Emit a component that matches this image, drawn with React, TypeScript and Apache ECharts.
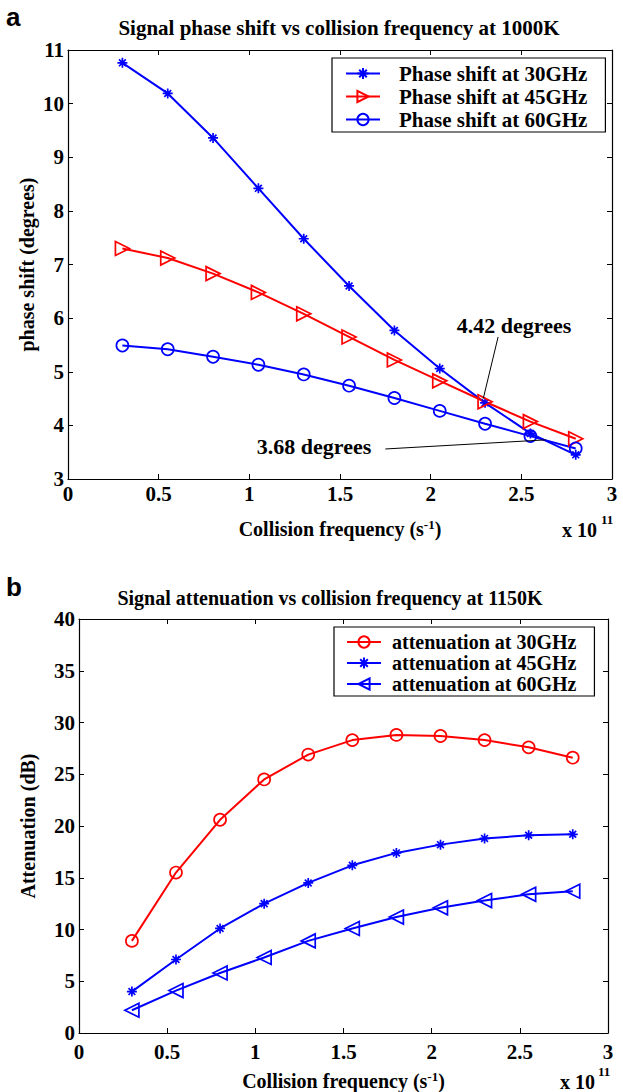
import React, { useEffect, useRef } from "react";
import * as echarts from "echarts";

const freq = [0.3, 0.55, 0.8, 1.05, 1.3, 1.55, 1.8, 2.05, 2.3, 2.55, 2.8];
const phase30 = [10.76, 10.19, 9.36, 8.42, 7.48, 6.6, 5.77, 5.06, 4.42, 3.85, 3.45];
const phase45 = [7.3, 7.12, 6.83, 6.48, 6.08, 5.65, 5.22, 4.83, 4.44, 4.07, 3.75];
const phase60 = [5.49, 5.42, 5.28, 5.13, 4.95, 4.74, 4.51, 4.27, 4.03, 3.8, 3.57];
const att30 = [8.9, 15.5, 20.6, 24.5, 26.9, 28.3, 28.8, 28.7, 28.3, 27.6, 26.6];
const att45 = [4.0, 7.1, 10.1, 12.5, 14.5, 16.2, 17.4, 18.2, 18.8, 19.1, 19.2];
const att60 = [2.2, 4.1, 5.8, 7.3, 8.9, 10.1, 11.2, 12.1, 12.8, 13.4, 13.7];

const namesA = ["Phase shift at 30GHz", "Phase shift at 45GHz", "Phase shift at 60GHz"];
const namesB = ["attenuation at 30GHz", "attenuation at 45GHz", "attenuation at 60GHz"];

// annotation arrows: [start, end] in data coordinates
const arrow442 = [[2.372, 5.65], [2.29, 4.5]];
const arrow368 = [[1.75, 3.56], [2.635, 3.73]];
const label442 = { text: "4.42 degrees", at: [2.46, 5.87] };
const label368 = { text: "3.68 degrees", at: [1.357, 3.6] };

const BLUE = "#0000ff";
const RED = "#ff0000";
const SERIF = "'Liberation Serif', 'Times New Roman', serif";

const STAR = "path://M5,0 L5,10 M0,5 L10,5 M1.6,1.6 L8.4,8.4 M1.6,8.4 L8.4,1.6";
const TRI_RIGHT = "path://M0,0 L10,5 L0,10 Z";
const TRI_LEFT = "path://M10,0 L0,5 L10,10 Z";

const pts = (ys: number[]) => freq.map((x, i) => [x, ys[i]]);

function mkSeries(name: string, ys: number[], color: string, symbol: string, size: number, xi: number, extra: any = {}) {
  const filled = symbol === STAR;
  return {
    type: "line",
    name,
    data: pts(ys),
    xAxisIndex: xi,
    yAxisIndex: xi,
    symbol,
    symbolSize: size,
    showAllSymbol: true,
    lineStyle: { color, width: 2 },
    itemStyle: { color: filled ? color : "rgba(0,0,0,0)", borderColor: color, borderWidth: 1.7 },
    emphasis: { disabled: true },
    z: 3,
    ...extra,
  };
}

function axisPair(grid: number, min: number, max: number, interval: number, isX: boolean, labelMargin: number, name: string, nameGap: number) {
  const common = {
    gridIndex: grid,
    type: "value",
    min,
    max,
    interval,
    axisLine: { show: true, onZero: false, lineStyle: { color: "#000", width: 1.2 } },
    axisTick: { show: true, inside: true, length: 5, lineStyle: { color: "#000" } },
    splitLine: { show: false },
  };
  const main: any = {
    ...common,
    position: isX ? "bottom" : "left",
    axisLabel: {
      show: true,
      margin: labelMargin,
      color: "#000",
      fontFamily: SERIF,
      fontWeight: "bold",
      fontSize: 21,
    },
    name,
    nameLocation: "middle",
    nameGap,
    nameMoveOverlap: false,
    nameTextStyle: {
      color: "#000",
      fontFamily: SERIF,
      fontWeight: "bold",
      fontSize: 20,
      rich: {
        a: { color: "#000", fontFamily: SERIF, fontWeight: "bold", fontSize: 20 },
        sup: { color: "#000", fontFamily: SERIF, fontWeight: "bold", fontSize: 13, verticalAlign: "top", padding: [0, 0, 9, 0] },
      },
    },
  };
  const second: any = {
    ...common,
    position: isX ? "top" : "right",
    axisLabel: { show: false },
  };
  return [main, second];
}

function legendCfg(names: string[], left: number, top: number, itemGap: number, padding: number[], textPad: number, fontSize: number) {
  return {
    data: names,
    orient: "vertical",
    left,
    top,
    itemWidth: 34,
    itemHeight: 14,
    itemGap,
    padding,
    borderColor: "#000",
    borderWidth: 1.2,
    backgroundColor: "#fff",
    selectedMode: false,
    textStyle: {
      color: "#000",
      fontFamily: SERIF,
      fontWeight: "bold",
      fontSize,
      padding: [0, 0, 0, textPad],
    },
  };
}

export default function App() {
  const ref = useRef<HTMLDivElement>(null);
  useEffect(() => {
    if (!ref.current) return;
    const chart = echarts.init(ref.current, undefined, { renderer: "svg" });
    const xName = "{a|Collision frequency (s}{sup|-1}{a|)}";
    const [xa0, xa1] = axisPair(0, 0, 3, 0.5, true, 4, xName, 39);
    const [ya0, ya1] = axisPair(0, 3, 11, 1, false, 4, "phase shift (degrees)", 31);
    const [xb0, xb1] = axisPair(1, 0, 3, 0.5, true, 8, xName, 37);
    const [yb0, yb1] = axisPair(1, 0, 40, 5, false, 4, "Attenuation (dB)", 41);
    const annot = {
      markLine: {
        silent: true,
        symbol: ["none", "arrow"],
        symbolSize: [0, 9],
        label: { show: false },
        lineStyle: { color: "#000", width: 1, type: "solid" },
        data: [
          [{ coord: arrow442[0] }, { coord: arrow442[1] }],
          [{ coord: arrow368[0] }, { coord: arrow368[1] }],
        ],
      },
      markPoint: {
        silent: true,
        symbol: "circle",
        symbolSize: 0,
        label: {
          show: true,
          position: "inside",
          color: "#000",
          fontFamily: SERIF,
          fontWeight: "bold",
          fontSize: 22,
          formatter: (p: any) => p.name,
        },
        data: [
          { name: label442.text, coord: label442.at },
          { name: label368.text, coord: label368.at },
        ],
      },
    };
    const option: any = {
      animation: false,
      backgroundColor: "#fff",
      grid: [
        { left: 68, top: 50, width: 544, height: 429 },
        { left: 79, top: 619, width: 529, height: 414 },
      ],
      xAxis: [xa0, xa1, xb0, xb1],
      yAxis: [ya0, ya1, yb0, yb1],
      legend: [
        legendCfg(namesA, 332, 58, 2, [5, 18, 2, 13], 14, 21),
        legendCfg(namesB, 334, 627, 1, [5, 18, 2, 12], 6, 20),
      ],
      series: [
        mkSeries(namesA[0], phase30, BLUE, STAR, 10, 0, annot),
        mkSeries(namesA[1], phase45, RED, TRI_RIGHT, 14, 0),
        mkSeries(namesA[2], phase60, BLUE, "circle", 12, 0),
        mkSeries(namesB[0], att30, RED, "circle", 12, 2),
        mkSeries(namesB[1], att45, BLUE, STAR, 10, 2),
        mkSeries(namesB[2], att60, BLUE, TRI_LEFT, 14, 2),
      ],
      graphic: [
        { type: "text", left: 6, top: 4, style: { text: "a", fontFamily: "'Liberation Sans', Arial, sans-serif", fontWeight: "bold", fontSize: 26, fill: "#000" } },
        { type: "text", left: 6, top: 574, style: { text: "b", fontFamily: "'Liberation Sans', Arial, sans-serif", fontWeight: "bold", fontSize: 26, fill: "#000" } },
        { type: "text", x: 339, y: 28, style: { text: "Signal phase shift vs collision frequency at 1000K", align: "center", verticalAlign: "middle", fontFamily: SERIF, fontWeight: "bold", fontSize: 21, fill: "#000" } },
        { type: "text", x: 330, y: 598, style: { text: "Signal attenuation vs collision frequency at 1150K", align: "center", verticalAlign: "middle", fontFamily: SERIF, fontWeight: "bold", fontSize: 20, fill: "#000" } },
        { type: "text", x: 562, y: 530, style: { text: "x 10", verticalAlign: "middle", fontFamily: SERIF, fontWeight: "bold", fontSize: 20, fill: "#000" } },
        { type: "text", x: 601, y: 519, style: { text: "11", verticalAlign: "middle", fontFamily: SERIF, fontWeight: "bold", fontSize: 13, fill: "#000" } },
        { type: "text", x: 560, y: 1082, style: { text: "x 10", verticalAlign: "middle", fontFamily: SERIF, fontWeight: "bold", fontSize: 20, fill: "#000" } },
        { type: "text", x: 598, y: 1071, style: { text: "11", verticalAlign: "middle", fontFamily: SERIF, fontWeight: "bold", fontSize: 13, fill: "#000" } },
      ],
    };
    chart.setOption(option);
    return () => chart.dispose();
  }, []);
  return <div ref={ref} style={{ position: "absolute", left: 0, top: 0, width: 623, height: 1092 }} />;
}
